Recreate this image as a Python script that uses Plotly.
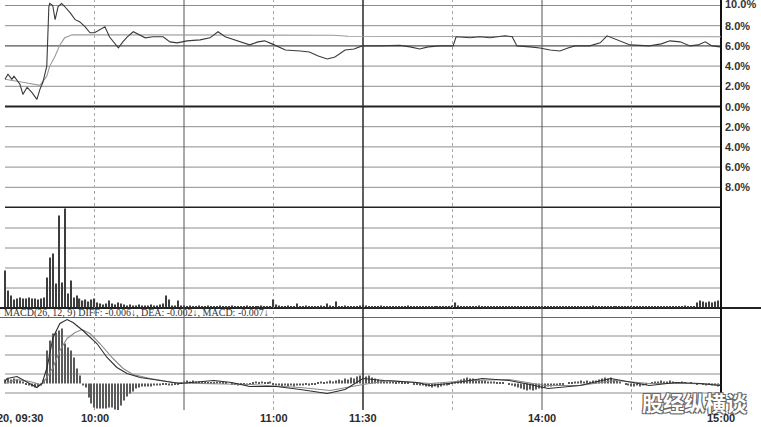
import plotly.graph_objects as go

W, H = 761, 427

# ---------------- data ----------------
# minutes after 09:30 (0..240, lunch break collapsed) and % change
price_min = [0, 1, 2.3, 3, 5, 6, 7.4, 9, 10.7, 11.7, 12.7, 14, 14.7, 15, 16, 16.8, 17.8, 19, 20, 21.8,
             23.5, 25, 26.8, 28.5, 30, 32, 33.5, 35, 38, 39.5, 41, 43, 45, 47, 49.6, 53, 55.3, 57.7, 61, 65.4,
             68.7, 71.4, 73.8, 77, 82, 84.8, 87, 89.5, 91.5, 94, 99, 102, 105, 108, 110.6, 114, 117, 119.7, 125.7, 132.4,
             135.8, 139, 141.8, 145.8, 150.2, 151.2, 156, 159, 162.6, 167.6, 170, 171.6, 176, 179.3, 182.7, 186, 188.7, 191, 196, 199.5,
             201.8, 205.5, 209.5, 216, 220, 222.9, 226.3, 229.6, 232.3, 234.7, 237, 239.7]
price_pct = [2.7, 3.2, 2.7, 3.0, 2.2, 1.2, 1.9, 1.4, 0.7, 1.7, 2.4, 4.0, 9.9, 10.2, 10.0, 8.6, 9.9, 10.2, 9.9, 9.3,
             8.6, 8.4, 7.9, 7.3, 7.3, 7.6, 7.9, 6.9, 5.8, 6.4, 6.9, 7.4, 7.1, 6.8, 6.9, 6.9, 6.4, 6.3, 6.5, 6.6,
             6.8, 7.4, 6.9, 6.6, 6.1, 6.4, 6.5, 6.2, 5.9, 5.6, 5.5, 5.4, 5.0, 4.7, 4.9, 5.6, 5.7, 6.0, 6.0, 6.05,
             5.9, 5.7, 5.9, 6.0, 6.0, 6.9, 6.8, 6.9, 6.8, 7.0, 6.9, 6.0, 5.9, 5.8, 5.6, 5.5, 5.8, 6.0, 6.0, 6.3,
             7.0, 6.6, 6.1, 6.0, 6.2, 6.5, 6.4, 6.0, 6.1, 6.4, 6.0, 5.9]

avg_min = [0, 2.5, 6, 11.7, 14, 15, 16.8, 18.4, 20, 22.5, 60, 110, 115, 180, 240]
avg_pct = [2.7, 2.6, 2.4, 2.1, 3.0, 4.0, 5.0, 6.1, 6.8, 7.1, 7.05, 7.05, 6.95, 6.95, 6.9]

volume = [
    37, 17, 12, 8, 9, 10, 9, 9, 10, 9, 9, 8, 9, 10, 30, 50, 54, 24, 92, 25, 99, 14, 27, 10, 12, 9, 7, 8, 6, 8,
    9, 5, 4, 3, 4, 7, 4, 3, 5, 4, 3, 2, 3, 2, 2, 3, 2, 2, 2, 3, 2, 2, 3, 4, 12, 8, 2, 2, 7, 2,
    2, 1, 2, 1, 1, 2, 1, 1, 2, 1, 1, 1, 2, 1, 1, 1, 2, 1, 1, 1, 1, 2, 1, 1, 1, 1, 2, 1, 1, 1,
    8, 3, 2, 1, 1, 2, 1, 1, 4, 1, 1, 2, 1, 1, 1, 1, 2, 1, 4, 2, 1, 6, 1, 1, 2, 1, 1, 1, 1, 2,
    3, 2, 1, 1, 1, 1, 2, 1, 1, 1, 1, 1, 1, 1, 1, 2, 1, 1, 1, 1, 1, 1, 1, 1, 1, 1, 1, 1, 1, 1,
    2, 5, 2, 1, 1, 1, 1, 1, 1, 2, 1, 1, 1, 1, 1, 1, 1, 1, 1, 1, 1, 1, 1, 1, 1, 1, 1, 1, 1, 1,
    1, 1, 1, 1, 1, 1, 1, 1, 1, 1, 1, 1, 1, 1, 1, 1, 1, 2, 1, 1, 1, 1, 1, 1, 1, 1, 1, 1, 1, 1,
    1, 1, 1, 1, 1, 1, 1, 1, 1, 1, 1, 1, 1, 1, 1, 1, 1, 1, 2, 1, 1, 1, 5, 7, 6, 5, 6, 5, 6, 7,
]

diff_min = [0, 0.7, 4, 7.4, 10.7, 12.4, 14.1, 16.1, 18.4, 20.8, 22.8, 26.1, 30.8, 34.2, 37.5, 40.9, 45.3, 52, 58.7, 70,
            76, 82, 91, 99, 108, 114, 120, 127, 138, 142.5, 151.5, 160, 169, 176, 182, 192.7, 203, 216, 225, 233, 239.7]
diff_val = [0.005, 0.0125, 0.0175, 0.0025, -0.01, 0, 0.04, 0.115, 0.15, 0.16, 0.1525, 0.1325, 0.1, 0.065, 0.04, 0.025,
            0.015, 0.0075, 0, 0.0075, 0.0025, -0.0075, -0.0075, -0.015, -0.025, -0.015, 0.0125, 0.0075, 0.0025, -0.005,
            0.0025, 0.0125, 0.0075, -0.0025, -0.0125, -0.005, 0.0125, -0.005, 0.0025, 0, -0.005]

dea_min = [0, 4, 8.4, 11.7, 12.7, 16.1, 18.4, 20.8, 23.5, 25.8, 28.5, 31.8, 36.2, 39.6, 42.9, 48.6, 56.3, 65.4, 82, 99,
           109, 120, 129, 142.5, 156, 169, 181, 192.7, 204.5, 216, 229.6, 239.7]
dea_val = [0, 0.01, 0.005, -0.0025, 0, 0.04, 0.0825, 0.1125, 0.1275, 0.135, 0.125, 0.1, 0.0625, 0.0375, 0.0225, 0.0125,
           0.0025, 0, -0.0025, -0.01, -0.0175, -0.0025, 0.0075, 0, 0.0075, 0.01, -0.005, -0.005, 0.0075, 0, 0, -0.0025]

macd_hist = [
    0.01, 0.0125, 0.01, 0.0125, 0.01, 0.0075, 0.005, -0.0025, -0.005, -0.0075,
    -0.01, -0.0075, -0.005, 0.01, 0.0825, 0.1075, 0.125, 0.1275, 0.1325, 0.1375,
    0.1, 0.09, 0.0825, 0.065, 0.0375, 0.02, -0.005, -0.01, -0.035, -0.05,
    -0.06, -0.0625, -0.0625, -0.0625, -0.0625, -0.06, -0.06, -0.065, -0.0675, -0.055,
    -0.0425, -0.0325, -0.025, -0.02, -0.0125, -0.01, -0.0075, -0.0075, -0.0075, -0.0075,
    -0.005, -0.005, -0.005, -0.0025, -0.0025, -0.005, -0.005, -0.0025, -0.0025, 0.0025,
    0.005, 0.0075, 0.005, 0.0075, 0.005, 0.005, 0.0025, 0.005, 0.0025, 0.0025,
    0.0025, 0.005, 0.005, 0.0025, 0.0025, 0, -0.0025, -0.0025, -0.005, -0.0025,
    -0.0025, -0.005, -0.0025, 0.0025, 0.005, 0.0025, 0.005, 0.0025, 0.0025, 0.005,
    -0.0025, -0.005, -0.005, -0.0075, -0.005, -0.0075, -0.005, -0.0075, -0.005, -0.005,
    -0.005, -0.0025, -0.005, -0.0025, -0.0025, 0.0025, 0.005, 0.0025, 0.005, 0.0075,
    0.005, 0.0075, 0.01, 0.0075, 0.0125, 0.01, 0.015, 0.0125, 0.0175, 0.02,
    0.02, 0.0175, 0.02, 0.015, 0.0125, 0.01, 0.0075, 0.0075, 0.005, 0.005,
    0.005, 0.0025, 0.005, 0.0025, 0.0025, 0.0025, 0, -0.0025, -0.0025, -0.005,
    -0.005, -0.0075, -0.0075, -0.01, -0.0075, -0.01, -0.0075, -0.005, -0.005, -0.0025,
    0.0025, 0.005, 0.0075, 0.01, 0.0125, 0.015, 0.0125, 0.0125, 0.01, 0.01,
    0.0075, 0.0075, 0.005, 0.005, 0.005, 0.0025, 0.0025, 0.0025, 0, -0.0025,
    -0.005, -0.0075, -0.01, -0.0125, -0.015, -0.0175, -0.015, -0.0175, -0.015, -0.0125,
    -0.0125, -0.01, -0.0075, -0.0075, -0.005, -0.005, -0.0025, -0.0025, 0, 0.0025,
    0.0025, 0.005, 0.005, 0.0075, 0.005, 0.0075, 0.005, 0.0075, 0.0075, 0.01,
    0.0125, 0.015, 0.0125, 0.015, 0.01, 0.0075, 0.005, 0, -0.0025, -0.005,
    -0.0075, -0.0075, -0.005, -0.0075, -0.005, -0.0025, 0, 0.0025, 0.005, 0.005,
    0.0075, 0.005, 0.005, 0.0075, 0.005, 0.0025, 0.0025, 0.005, 0.0025, 0,
    0.0025, 0, -0.0025, 0, -0.0025, -0.005, -0.0025, -0.005, -0.005, -0.0075,
]

pct_ticks = [10, 8, 6, 4, 2, 0, -2, -4, -6, -8]
pct_labels = ["10.0%", "8.0%", "6.0%", "4.0%", "2.0%", "0.0%", "2.0%", "4.0%", "6.0%", "8.0%"]
time_ticks = [0, 30, 90, 120, 180, 240]
time_labels = ["20, 09:30", "10:00", "11:00", "11:30", "14:00", "15:00"]
macd_title = "MACD(26, 12, 9) DIFF: -0.006↓, DEA: -0.002↓, MACD: -0.007↓"
watermark = "股经纵横谈"

assert len(price_min) == len(price_pct)
assert len(avg_min) == len(avg_pct)
assert len(diff_min) == len(diff_val)
assert len(dea_min) == len(dea_val)
assert len(volume) == 240 and len(macd_hist) == 240

minutes = list(range(240))

# ---------------- layout geometry (pixels) ----------------
PX_PER_MIN = (721 - 5) / 240.0
x_range = [-5 / PX_PER_MIN, (W - 5) / PX_PER_MIN]


def py(p):
    return 1 - p / H


def pxx(p):
    return p / W


fig = go.Figure()
fig.add_trace(go.Scatter(x=avg_min, y=avg_pct, mode="lines", line=dict(color="#9a9a9a", width=1.1),
                         xaxis="x", yaxis="y", hoverinfo="skip"))
fig.add_trace(go.Scatter(x=price_min, y=price_pct, mode="lines", line=dict(color="#3a3a3a", width=1.1),
                         xaxis="x", yaxis="y", hoverinfo="skip"))
fig.add_trace(go.Bar(x=minutes, y=volume, width=0.4, marker=dict(color="#3d3d3d", line=dict(width=0)),
                     xaxis="x", yaxis="y2", hoverinfo="skip"))
fig.add_trace(go.Bar(x=minutes, y=macd_hist, width=0.35, marker=dict(color="#5a5a5a", line=dict(width=0)),
                     xaxis="x", yaxis="y3", hoverinfo="skip"))
fig.add_trace(go.Scatter(x=dea_min, y=dea_val, mode="lines", line=dict(color="#8a8a8a", width=1.1),
                         xaxis="x", yaxis="y3", hoverinfo="skip"))
fig.add_trace(go.Scatter(x=diff_min, y=diff_val, mode="lines", line=dict(color="#2e2e2e", width=1.1),
                         xaxis="x", yaxis="y3", hoverinfo="skip"))

shapes = []
thin = "#8c8c8c"
# price panel horizontal grid (in data units)
for v in pct_ticks + [-10]:
    if v == 0 or v == -10:
        col, w = "#222222", 2.2
    elif v == 6:
        col, w = "#555555", 1.4
    else:
        col, w = thin, 1
    shapes.append(dict(type="line", xref="paper", yref="y", x0=pxx(5), x1=pxx(721), y0=v, y1=v,
                       line=dict(color=col, width=w), layer="below"))
# volume panel
for p in [228, 248, 268, 288]:
    shapes.append(dict(type="line", xref="paper", yref="paper", x0=pxx(5), x1=pxx(721), y0=py(p), y1=py(p),
                       line=dict(color=thin, width=1), layer="below"))
shapes.append(dict(type="line", xref="paper", yref="paper", x0=0, x1=1, y0=py(308), y1=py(308),
                   line=dict(color="#222222", width=2), layer="below"))
# MACD panel
shapes.append(dict(type="line", xref="paper", yref="paper", x0=0, x1=pxx(721), y0=py(317.5), y1=py(317.5),
                   line=dict(color="#666666", width=1), layer="below"))
for p in [336, 355, 374, 393]:
    shapes.append(dict(type="line", xref="paper", yref="paper", x0=pxx(5), x1=pxx(721), y0=py(p), y1=py(p),
                       line=dict(color=thin, width=1), layer="below"))
# vertical time lines
for t in [30, 60, 90, 120, 150, 180, 210, 240]:
    if t in (30, 90, 150, 210):
        ln = dict(color="#a8a8a8", width=1, dash="dot")
    elif t == 120:
        ln = dict(color="#2a2a2a", width=1.5)
    elif t == 240:
        ln = dict(color="#111111", width=2)
    else:
        ln = dict(color="#555555", width=1)
    shapes.append(dict(type="line", xref="x", yref="paper", x0=t, x1=t, y0=py(410), y1=1, line=ln, layer="below"))

annotations = []
for v, lab in zip(pct_ticks, pct_labels):
    annotations.append(dict(xref="paper", yref="y", x=pxx(723), y=v, text=lab, showarrow=False,
                            xanchor="left", yanchor="middle", yshift=(0 if v != 10 else 2),
                            font=dict(family="Liberation Sans", size=11, color="#333333", weight="bold")))
annotations.append(dict(xref="paper", yref="paper", x=pxx(694), y=py(402), text=watermark, showarrow=False,
                        xanchor="center", yanchor="middle",
                        font=dict(family="Noto Sans CJK SC", size=21, color="#ffffff", weight="bold",
                                  shadow="1px 1px 0 #666, -1px -1px 0 #666, 1px -1px 0 #666, -1px 1px 0 #666")))
for t, lab in zip(time_ticks, time_labels):
    a = dict(xref="x", yref="paper", x=t, y=py(418), text=lab, showarrow=False, xanchor="center", yanchor="middle",
             font=dict(family="Liberation Sans", size=11, color="#2a2a2a", weight="bold"))
    if t == 0:
        a["xanchor"] = "left"
        a["xshift"] = -10
    annotations.append(a)
annotations.append(dict(xref="paper", yref="paper", x=pxx(2), y=py(312.5), text=macd_title, showarrow=False,
                        xanchor="left", yanchor="middle",
                        font=dict(family="Liberation Serif", size=10, color="#333333")))

fig.update_layout(
    width=W, height=H, margin=dict(l=0, r=0, t=0, b=0), autosize=False,
    paper_bgcolor="white", plot_bgcolor="white", showlegend=False, barmode="overlay",
    xaxis=dict(domain=[0, 1], range=x_range, visible=False, fixedrange=True),
    yaxis=dict(domain=[py(208), 1], range=[-10.05, 10.545], visible=False, fixedrange=True),
    yaxis2=dict(domain=[py(307.5), py(208)], range=[0, 99.5], visible=False, anchor="x", fixedrange=True),
    yaxis3=dict(domain=[py(410), py(317)], range=[(383.5 - 410) * 0.0025, (383.5 - 317) * 0.0025],
                visible=False, anchor="x", fixedrange=True),
    shapes=shapes, annotations=annotations,
)

fig.write_html("out.html", config={"displayModeBar": False},
               post_script="document.body.style.margin='0';document.body.style.overflow='hidden';")
